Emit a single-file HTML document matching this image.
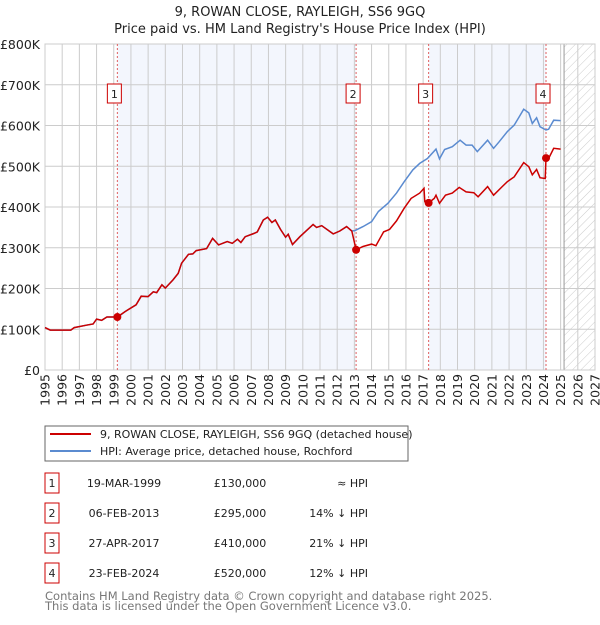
<!DOCTYPE html>
<html><head><meta charset="utf-8"><style>
body{margin:0;background:#fff;font-family:"Liberation Sans","DejaVu Sans",sans-serif;}
svg text{font-family:"DejaVu Sans","Liberation Sans",sans-serif;}
</style></head><body>
<svg id="c" width="600" height="620" xmlns="http://www.w3.org/2000/svg">
<defs><pattern id="hatch" width="6" height="6" patternUnits="userSpaceOnUse" patternTransform="rotate(45)"><line x1="0" y1="0" x2="0" y2="6" stroke="#ccc" stroke-width="1"/></pattern></defs>
<text x="300" y="16" text-anchor="middle" font-size="13" fill="#222">9, ROWAN CLOSE, RAYLEIGH, SS6 9GQ</text>
<text x="300" y="33" text-anchor="middle" font-size="13" fill="#222">Price paid vs. HM Land Registry's House Price Index (HPI)</text>
<g id="plot"></g>
<rect x="45" y="426" width="363" height="35" fill="#fff" stroke="#666"/>
<line x1="50" y1="434" x2="91" y2="434" stroke="#cc0000" stroke-width="2"/>
<text x="100" y="438" font-size="11" fill="#222">9, ROWAN CLOSE, RAYLEIGH, SS6 9GQ (detached house)</text>
<line x1="50" y1="451" x2="91" y2="451" stroke="#5b8bd0" stroke-width="2"/>
<text x="100" y="455" font-size="11" fill="#222">HPI: Average price, detached house, Rochford</text>
<g id="tbl"></g>
<text x="45" y="600" font-size="11.5" fill="#777">Contains HM Land Registry data © Crown copyright and database right 2025.</text>
<text x="45" y="610" font-size="11.5" fill="#777">This data is licensed under the Open Government Licence v3.0.</text>
</svg>
<script>
const hpiYears=[1995.0,1995.3,1996.5,1996.7,1997.4,1997.8,1998.0,1998.3,1998.6,1999.0,1999.2,1999.65,2000.3,2000.6,2001.0,2001.3,2001.5,2001.8,2002.0,2002.45,2002.75,2002.95,2003.35,2003.6,2003.8,2004.4,2004.75,2005.1,2005.6,2005.9,2006.2,2006.4,2006.65,2007.15,2007.35,2007.7,2007.95,2008.2,2008.4,2008.7,2009.0,2009.15,2009.4,2009.83,2010.6,2010.8,2011.1,2011.77,2012.15,2012.55,2012.85,2013.03,2013.5,2014.0,2014.4,2014.95,2015.45,2015.9,2016.4,2016.8,2017.25,2017.75,2017.95,2018.25,2018.7,2019.15,2019.5,2019.85,2020.15,2020.75,2021.1,2021.4,2021.9,2022.3,2022.6,2022.85,2023.15,2023.35,2023.6,2023.8,2024.15,2024.3,2024.6,2025.0];
const hpiVals=[104,98,98,104,110,113,125,122,130,130,128,143,160,181,180,192,190,209,201,221,237,262,284,285,293,298,323,307,315,311,321,313,327,335,339,368,375,362,368,345,326,333,308,327,357,350,354,334,341,352,341,342,352,364,389,409,434,462,491,507,519,542,518,541,548,564,552,552,536,564,544,559,585,601,622,640,631,605,619,597,589,591,613,612];
const propYears=[1995.0,1995.3,1996.5,1996.7,1997.4,1997.8,1998.0,1998.3,1998.6,1999.0,1999.2,1999.65,2000.3,2000.6,2001.0,2001.3,2001.5,2001.8,2002.0,2002.45,2002.75,2002.95,2003.35,2003.6,2003.8,2004.4,2004.75,2005.1,2005.6,2005.9,2006.2,2006.4,2006.65,2007.15,2007.35,2007.7,2007.95,2008.2,2008.4,2008.7,2009.0,2009.15,2009.4,2009.83,2010.6,2010.8,2011.1,2011.77,2012.15,2012.55,2012.85,2013.1,2013.5,2014.0,2014.25,2014.7,2015.05,2015.45,2015.9,2016.3,2016.8,2017.05,2017.1,2017.32,2017.65,2017.75,2017.95,2018.3,2018.7,2019.1,2019.5,2019.95,2020.2,2020.75,2021.1,2021.6,2021.9,2022.3,2022.85,2023.15,2023.35,2023.6,2023.8,2024.1,2024.15,2024.3,2024.6,2025.0];
const propVals=[104,98,98,104,110,113,125,122,130,130,130,143,160,181,180,192,190,209,201,221,237,262,284,285,293,298,323,307,315,311,321,313,327,335,339,368,375,362,368,345,326,333,308,327,357,350,354,334,341,352,341,295,303,309,305,339,345,366,397,421,434,446,413,410,421,429,409,429,434,448,437,435,425,450,429,450,462,474,509,499,479,492,472,470,520,519,544,542];
const saleYears=[1999.21,2013.1,2017.32,2024.15];
const saleVals=[130,295,410,520];
const saleLabels=["1","2","3","4"];
const saleDates=["19-MAR-1999","06-FEB-2013","27-APR-2017","23-FEB-2024"];
const salePrices=["£130,000","£295,000","£410,000","£520,000"];
const saleRel=["≈ HPI","14% ↓ HPI","21% ↓ HPI","12% ↓ HPI"];
const yTicks=[0,100,200,300,400,500,600,700,800];
const yTickLabels=["£0","£100K","£200K","£300K","£400K","£500K","£600K","£700K","£800K"];
const xTicks=[1995,1996,1997,1998,1999,2000,2001,2002,2003,2004,2005,2006,2007,2008,2009,2010,2011,2012,2013,2014,2015,2016,2017,2018,2019,2020,2021,2022,2023,2024,2025,2026,2027];
const dataEnd=2025.2;

const X0=45,X1=595,Y0=370,Y1=44;
const xs=y=>X0+(y-1995)/(2027-1995)*(X1-X0);
const ys=v=>Y0-v/800*(Y0-Y1);
const NS="http://www.w3.org/2000/svg";
const g=document.getElementById('plot');
function mk(tag,at,parent){const e=document.createElementNS(NS,tag);for(const k in at)e.setAttribute(k,at[k]);(parent||g).appendChild(e);return e;}
let e;
e=mk('rect',{x:xs(saleYears[0]),y:Y1,width:xs(saleYears[1])-xs(saleYears[0]),height:Y0-Y1,fill:'#f3f6fd'});


e=mk('rect',{x:xs(saleYears[2]),y:Y1,width:xs(saleYears[3])-xs(saleYears[2]),height:Y0-Y1,fill:'#f3f6fd'});


e=mk('rect',{x:xs(dataEnd),y:Y1,width:X1-xs(dataEnd),height:Y0-Y1,fill:'url(#hatch)'});


yTicks.forEach((t,i)=>{
 e=mk('line',{x1:X0,x2:X1,y1:ys(t),y2:ys(t),stroke:'#ccc','stroke-width':1});
 
 
 e=mk('text',{x:40,y:ys(t)+5,'text-anchor':'end','font-size':12.5,fill:'#222'});e.textContent=yTickLabels[i];
 
 
});
xTicks.forEach(t=>{
 e=mk('line',{x1:xs(t),x2:xs(t),y1:Y1,y2:Y0,stroke:'#ccc','stroke-width':1});
 
 
 e=mk('text',{x:0,y:0,'text-anchor':'end','font-size':12.5,fill:'#222',transform:`translate(${xs(t)+4.5},374) rotate(-90)`});e.textContent=t;
 
 
});
e=mk('line',{x1:xs(dataEnd),x2:xs(dataEnd),y1:Y1,y2:Y0,stroke:'#999','stroke-width':1});


e=mk('rect',{x:X0,y:Y1,width:X1-X0,height:Y0-Y1,fill:'none',stroke:'#ccc'});


saleYears.forEach((s,i)=>{
 e=mk('line',{x1:xs(s),x2:xs(s),y1:Y1,y2:Y0,stroke:'#e06060','stroke-width':1,'stroke-dasharray':'2,2'});
 
 
});
e=mk('path',{d:hpiYears.map((y,i)=>(i?'L':'M')+xs(y).toFixed(1)+','+ys(hpiVals[i]).toFixed(1)).join(''),fill:'none',stroke:'#5b8bd0','stroke-width':1.5});


e=mk('path',{d:propYears.map((y,i)=>(i?'L':'M')+xs(y).toFixed(1)+','+ys(propVals[i]).toFixed(1)).join(''),fill:'none',stroke:'#cc0000','stroke-width':1.5});


saleYears.forEach((s,i)=>{
 e=mk('circle',{cx:xs(s),cy:ys(saleVals[i]),r:4,fill:'#cc0000'});
 
 
 e=mk('rect',{x:xs(s)-10,y:84,width:14,height:19,fill:'#fff',stroke:'#cc0000'});
 
 
 e=mk('text',{x:xs(s)-3,y:98,'text-anchor':'middle','font-size':11,fill:'#222'});e.textContent=saleLabels[i];
 
 
});
const tb=document.getElementById('tbl');
saleLabels.forEach((l,i)=>{
 const cy=483+i*30;
 e=mk('rect',{x:45,y:cy-10,width:14,height:20,fill:'#fff',stroke:'#cc0000'},tb);
 
 
 e=mk('text',{x:52,y:cy+4,'text-anchor':'middle','font-size':11,fill:'#222'},tb);e.textContent=l;
 
 
 e=mk('text',{x:124,y:cy+4,'text-anchor':'middle','font-size':11,fill:'#222'},tb);e.textContent=saleDates[i];
 
 
 e=mk('text',{x:240,y:cy+4,'text-anchor':'middle','font-size':11,fill:'#222'},tb);e.textContent=salePrices[i];
 
 
 e=mk('text',{x:368,y:cy+4,'text-anchor':'end','font-size':11,fill:'#222'},tb);e.textContent=saleRel[i];
 
 
});
</script>
</body></html>
